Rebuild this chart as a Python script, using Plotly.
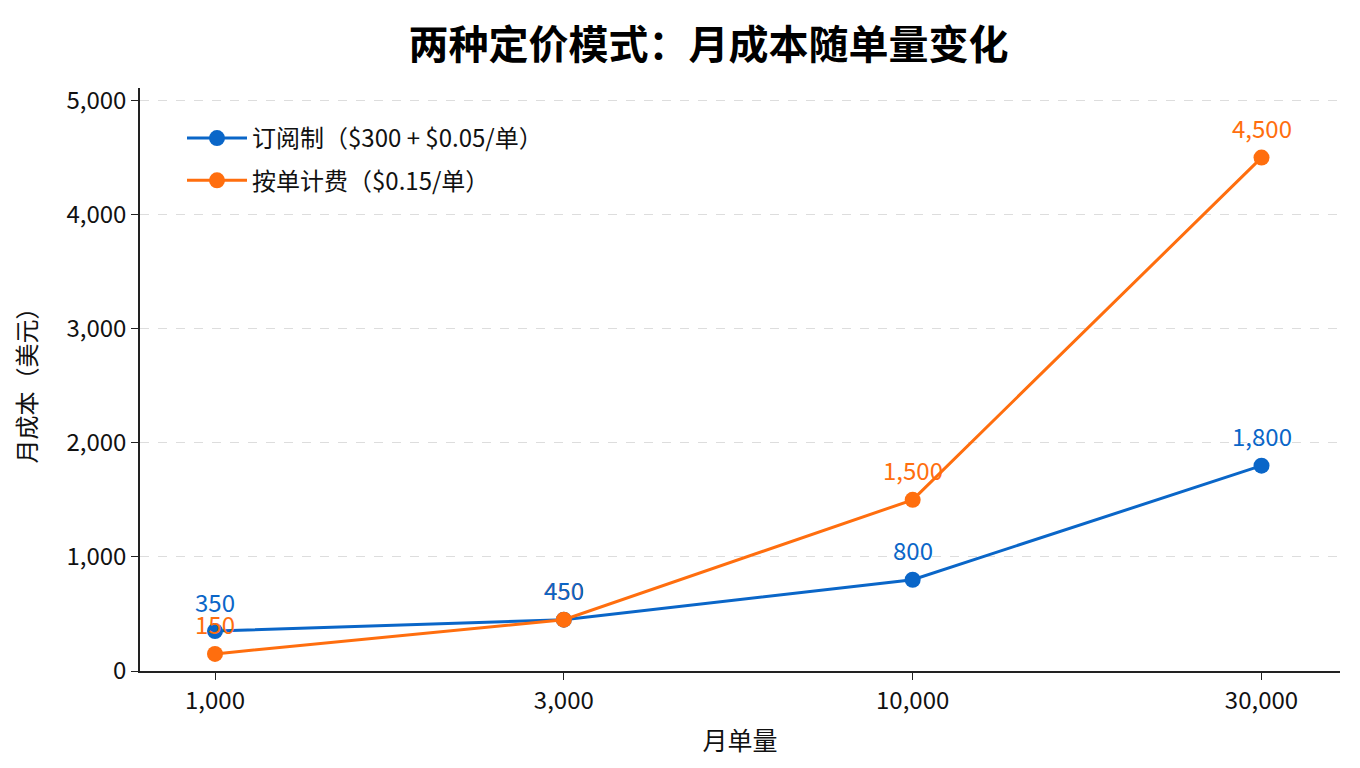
import plotly.graph_objects as go

# 数据
orders = ["1,000", "3,000", "10,000", "30,000"]
subscription_cost = [350, 450, 800, 1800]
per_order_cost = [150, 450, 1500, 4500]
series_names = ["订阅制（$300 + $0.05/单）", "按单计费（$0.15/单）"]
y_ticks = [0, 1000, 2000, 3000, 4000, 5000]

BLUE = "#0A66C8"
ORANGE = "#FF6E0E"
FONT = "Noto Sans CJK SC"

series = [
    (series_names[0], subscription_cost, BLUE),
    (series_names[1], per_order_cost, ORANGE),
]

fig = go.Figure()
for i, (name, values, color) in enumerate(series):
    fig.add_trace(go.Scatter(
        x=orders, y=values, name=name, legendgroup=f"g{i}",
        mode="lines+markers",
        line=dict(color=color, width=3),
        marker=dict(color=color, size=16),
        cliponaxis=False,
    ))

# 数值标签：橙色先画，蓝色压在上面
for name, values, color in reversed(series):
    for x, v in zip(orders, values):
        fig.add_annotation(
            x=x, y=v, text=f"{v:,}", showarrow=False,
            yshift=30, xref="x", yref="y",
            font=dict(color=color, size=24, family=FONT),
        )

fig.update_layout(
    width=1360, height=768,
    paper_bgcolor="white", plot_bgcolor="white",
    margin=dict(l=132, r=28, t=80, b=105),
    font=dict(family=FONT, color="#111111"),
    title=dict(
        text="<b>两种定价模式：月成本随单量变化</b>",
        x=0.515, xanchor="center", y=0.952, yanchor="middle",
        font=dict(size=40, color="#000000", family=FONT),
    ),
    legend=dict(
        x=0.035, y=0.952, xanchor="left", yanchor="top",
        font=dict(size=24, family=FONT),
        bgcolor="rgba(255,255,255,0)",
        itemwidth=60, tracegroupgap=8, traceorder="grouped",
    ),
    showlegend=True,
)
fig.update_xaxes(
    type="category", range=[-0.215, 3.225], automargin=False,
    showline=True, linecolor="#222222", linewidth=1.5,
    ticks="outside", ticklen=7, tickcolor="#222222",
    tickfont=dict(size=24), showgrid=False, zeroline=False,
    title=dict(text="月单量", font=dict(size=25), standoff=18),
)
fig.update_yaxes(
    range=[0, 5110], tickvals=y_ticks, automargin=False,
    tickformat=",", tickfont=dict(size=24),
    showline=True, linecolor="#222222", linewidth=1.5,
    ticks="outside", ticklen=7, tickcolor="#222222",
    showgrid=True, gridcolor="#DDDDDD", griddash="dash", gridwidth=1,
    zeroline=False,
    title=dict(text="月成本（美元）", font=dict(size=24), standoff=28),
)

fig.write_html("out.html")
